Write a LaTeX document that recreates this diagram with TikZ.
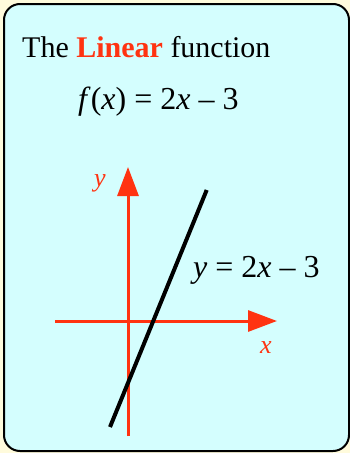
\documentclass[tikz,border=0pt]{standalone}
\usepackage{fontspec}
\setmainfont{Liberation Serif}
\usetikzlibrary{arrows.meta}
\definecolor{bgyellow}{HTML}{FFFBDC}
\definecolor{boxcyan}{HTML}{D4FEFE}
\definecolor{axred}{HTML}{FF3311}
\tikzset{
  axis/.style={draw=axred, line width=3pt, -{Triangle[length=29pt,width=21pt]}},
  graphline/.style={draw=black, line width=4pt},
  lbl/.style={inner sep=0pt, anchor=base west},
}
\begin{document}
\begin{tikzpicture}[x=1pt,y=-1pt]
\fill[bgyellow] (0,0) rectangle (350,453);
\useasboundingbox (0,0) rectangle (350,453);
\draw[line width=2pt, rounded corners=16pt, fill=boxcyan] (4,4) rectangle (349,451);
\node[lbl, font=\fontsize{30}{34}\selectfont] (title) at (22,57) {The \textcolor{axred}{\textbf{Linear}} function};
\node[lbl, font=\fontsize{32}{36}\selectfont] (fx) at (78,109) {\textit{f}(\textit{x}) = 2\textit{x} – 3};
\coordinate (ybot) at (128,436);
\coordinate (ytop) at (128,167);
\coordinate (xleft) at (55,321);
\coordinate (xright) at (277,321);
\draw[axis] (ybot) -- (ytop);
\draw[axis] (xleft) -- (xright);
\coordinate (lbot) at (110,427);
\coordinate (ltop) at (206.7,190);
\draw[graphline] (lbot) -- (ltop);
\node[lbl, font=\fontsize{26}{30}\selectfont, text=axred] (ylab) at (94,186) {\textit{y}};
\node[lbl, font=\fontsize{26}{30}\selectfont, text=axred] (xlab) at (260,353) {\textit{x}};
\node[lbl, font=\fontsize{32}{36}\selectfont] (eq) at (193,277) {\textit{y} = 2\textit{x} – 3};
\end{tikzpicture}
\end{document}
